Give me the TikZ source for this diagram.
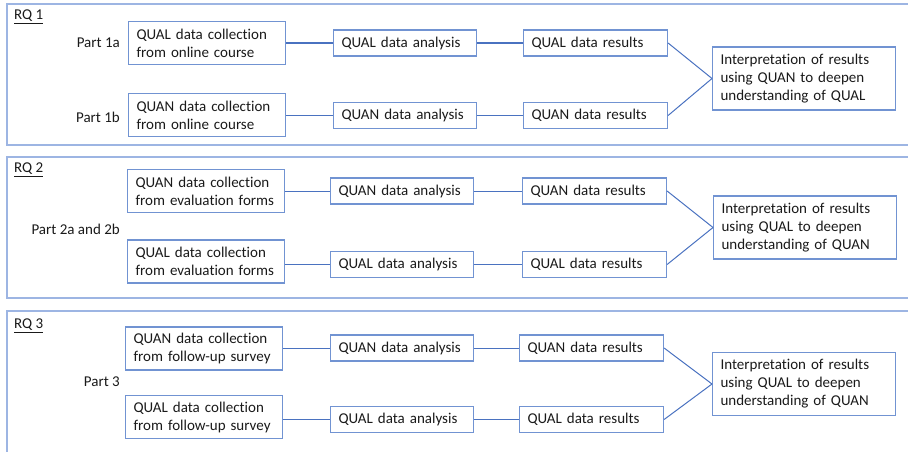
\documentclass[tikz,border=0pt]{standalone}
\usepackage{fontspec}
\setmainfont[RawFeature=-liga]{Carlito}
\definecolor{framecol}{HTML}{9DB5E3}
\definecolor{boxcol}{HTML}{7193D2}
\definecolor{linkcol}{HTML}{4A72C0}
\definecolor{txtcol}{HTML}{1A1A1A}
\begin{document}
\begin{tikzpicture}[x=1pt,y=-1pt,
  every node/.style={font=\fontsize{15}{18}\selectfont, text=txtcol},
  box/.style={draw=boxcol, line width=1.1pt, fill=white, inner xsep=8pt, inner ysep=0pt,
              align=left, anchor=west},
  coll/.style={box, text width=141pt, minimum height=43pt},
  anal/.style={box, text width=127pt, minimum height=26pt},
  res/.style={box, text width=128pt, minimum height=26pt},
  interp/.style={box, text width=167pt, minimum height=63pt},
  frame/.style={draw=framecol, line width=1.1pt},
  link/.style={draw=linkcol, line width=1pt},
  thicklink/.style={draw=linkcol, line width=1.6pt},
  rq/.style={anchor=west, inner sep=0pt},
  part/.style={anchor=east, inner sep=0pt}]
\useasboundingbox (0,0) rectangle (908,451);
\begin{scope}
\clip (0,0) rectangle (908,451);
% research-question panels
\draw[frame] (7,4) rectangle (915,145);
\draw[frame] (7,157) rectangle (915,298);
\draw[frame] (7,311) rectangle (915,460);
\end{scope}

% ---------- RQ 1 ----------
\node[rq] (rq1) at (14,17) {\underline{RQ 1}};
\node[coll] (c1a) at (128,43) {QUAL data collection\\from online course};
\node[coll] (c1b) at (128,115) {QUAN data collection\\from online course};
\node[part] (p1a) at (120,43) {Part 1a};
\node[part] (p1b) at (120,117) {Part 1b};
\node[anal] (a1a) at (333,43) {QUAL data analysis};
\node[anal] (a1b) at (333,115.5) {QUAN data analysis};
\node[res] (r1a) at (523,43) {QUAL data results};
\node[res] (r1b) at (523,115.5) {QUAN data results};
\node[interp] (i1) at (712,78.5) {Interpretation of results\\using QUAN to deepen\\understanding of QUAL};
\draw[thicklink] (c1a.east) -- (a1a.west);
\draw[thicklink] (a1a.east) -- (r1a.west);
\draw[thicklink] (c1b.east |- a1b.west) -- (a1b.west);
\draw[thicklink] (a1b.east) -- (r1b.west);
\draw[link] (r1a.east) -- (i1.west);
\draw[link] (r1b.east) -- (i1.west);

% ---------- RQ 2 ----------
\node[rq] (rq2) at (14,170) {\underline{RQ 2}};
\node[coll] (c2a) at (127,191) {QUAN data collection\\from evaluation forms};
\node[coll] (c2b) at (127,261.5) {QUAL data collection\\from evaluation forms};
\node[part] (p2) at (120,229) {Part 2a and 2b};
\node[anal] (a2a) at (330,191) {QUAN data analysis};
\node[anal] (a2b) at (330,264.5) {QUAL data analysis};
\node[res] (r2a) at (522,191) {QUAN data results};
\node[res] (r2b) at (522,264.5) {QUAL data results};
\node[interp] (i2) at (713,227.5) {Interpretation of results\\using QUAL to deepen\\understanding of QUAN};
\draw[link] (c2a.east) -- (a2a.west);
\draw[link] (a2a.east) -- (r2a.west);
\draw[link] (c2b.east |- a2b.west) -- (a2b.west);
\draw[link] (a2b.east) -- (r2b.west);
\draw[link] (r2a.east) -- (i2.west);
\draw[link] (r2b.east) -- (i2.west);

% ---------- RQ 3 ----------
\node[rq] (rq3) at (14,326) {\underline{RQ 3}};
\node[coll] (c3a) at (125,348.5) {QUAN data collection\\from follow-up survey};
\node[coll] (c3b) at (125,417) {QUAL data collection\\from follow-up survey};
\node[part] (p3) at (120,382) {Part 3};
\node[anal] (a3a) at (330,348) {QUAN data analysis};
\node[anal] (a3b) at (330,419.5) {QUAL data analysis};
\node[res] (r3a) at (519,348) {QUAN data results};
\node[res] (r3b) at (519,419.5) {QUAL data results};
\node[interp] (i3) at (712,384) {Interpretation of results\\using QUAL to deepen\\understanding of QUAN};
\draw[link] (c3a.east |- a3a.west) -- (a3a.west);
\draw[link] (a3a.east) -- (r3a.west);
\draw[link] (c3b.east |- a3b.west) -- (a3b.west);
\draw[link] (a3b.east) -- (r3b.west);
\draw[link] (r3a.east) -- (i3.west);
\draw[link] (r3b.east) -- (i3.west);
\end{tikzpicture}
\end{document}
